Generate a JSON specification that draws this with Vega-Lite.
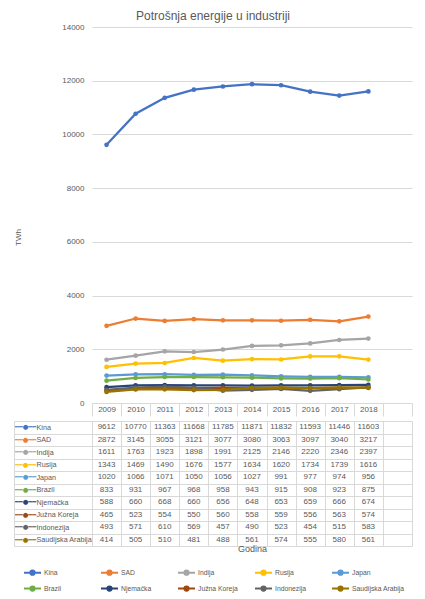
{
  "$schema": "https://vega.github.io/schema/vega-lite/v6.json",
  "padding": {"left": 13, "top": 10, "right": 6, "bottom": 4},
  "background": "white",
  "title": {
    "text": "Potrošnja energije u industriji",
    "fontSize": 12,
    "fontWeight": "normal",
    "color": "#595959",
    "anchor": "middle",
    "frame": "bounds",
    "offset": 0
  },
  "config": {
    "font": "Liberation Sans",
    "view": {"stroke": null},
    "axis": {
      "labelColor": "#595959",
      "titleColor": "#595959",
      "labelFontSize": 8,
      "titleFontSize": 8,
      "titleFontWeight": "normal"
    }
  },
  "data": {
    "values": [
      {"Country": "Kina", "Year": "2009", "Value": 9612},
      {"Country": "Kina", "Year": "2010", "Value": 10770},
      {"Country": "Kina", "Year": "2011", "Value": 11363},
      {"Country": "Kina", "Year": "2012", "Value": 11668},
      {"Country": "Kina", "Year": "2013", "Value": 11785},
      {"Country": "Kina", "Year": "2014", "Value": 11871},
      {"Country": "Kina", "Year": "2015", "Value": 11832},
      {"Country": "Kina", "Year": "2016", "Value": 11593},
      {"Country": "Kina", "Year": "2017", "Value": 11446},
      {"Country": "Kina", "Year": "2018", "Value": 11603},
      {"Country": "SAD", "Year": "2009", "Value": 2872},
      {"Country": "SAD", "Year": "2010", "Value": 3145},
      {"Country": "SAD", "Year": "2011", "Value": 3055},
      {"Country": "SAD", "Year": "2012", "Value": 3121},
      {"Country": "SAD", "Year": "2013", "Value": 3077},
      {"Country": "SAD", "Year": "2014", "Value": 3080},
      {"Country": "SAD", "Year": "2015", "Value": 3063},
      {"Country": "SAD", "Year": "2016", "Value": 3097},
      {"Country": "SAD", "Year": "2017", "Value": 3040},
      {"Country": "SAD", "Year": "2018", "Value": 3217},
      {"Country": "Indija", "Year": "2009", "Value": 1611},
      {"Country": "Indija", "Year": "2010", "Value": 1763},
      {"Country": "Indija", "Year": "2011", "Value": 1923},
      {"Country": "Indija", "Year": "2012", "Value": 1898},
      {"Country": "Indija", "Year": "2013", "Value": 1991},
      {"Country": "Indija", "Year": "2014", "Value": 2125},
      {"Country": "Indija", "Year": "2015", "Value": 2146},
      {"Country": "Indija", "Year": "2016", "Value": 2220},
      {"Country": "Indija", "Year": "2017", "Value": 2346},
      {"Country": "Indija", "Year": "2018", "Value": 2397},
      {"Country": "Rusija", "Year": "2009", "Value": 1343},
      {"Country": "Rusija", "Year": "2010", "Value": 1469},
      {"Country": "Rusija", "Year": "2011", "Value": 1490},
      {"Country": "Rusija", "Year": "2012", "Value": 1676},
      {"Country": "Rusija", "Year": "2013", "Value": 1577},
      {"Country": "Rusija", "Year": "2014", "Value": 1634},
      {"Country": "Rusija", "Year": "2015", "Value": 1620},
      {"Country": "Rusija", "Year": "2016", "Value": 1734},
      {"Country": "Rusija", "Year": "2017", "Value": 1739},
      {"Country": "Rusija", "Year": "2018", "Value": 1616},
      {"Country": "Japan", "Year": "2009", "Value": 1020},
      {"Country": "Japan", "Year": "2010", "Value": 1066},
      {"Country": "Japan", "Year": "2011", "Value": 1071},
      {"Country": "Japan", "Year": "2012", "Value": 1050},
      {"Country": "Japan", "Year": "2013", "Value": 1056},
      {"Country": "Japan", "Year": "2014", "Value": 1027},
      {"Country": "Japan", "Year": "2015", "Value": 991},
      {"Country": "Japan", "Year": "2016", "Value": 977},
      {"Country": "Japan", "Year": "2017", "Value": 974},
      {"Country": "Japan", "Year": "2018", "Value": 956},
      {"Country": "Brazil", "Year": "2009", "Value": 833},
      {"Country": "Brazil", "Year": "2010", "Value": 931},
      {"Country": "Brazil", "Year": "2011", "Value": 967},
      {"Country": "Brazil", "Year": "2012", "Value": 968},
      {"Country": "Brazil", "Year": "2013", "Value": 958},
      {"Country": "Brazil", "Year": "2014", "Value": 943},
      {"Country": "Brazil", "Year": "2015", "Value": 915},
      {"Country": "Brazil", "Year": "2016", "Value": 908},
      {"Country": "Brazil", "Year": "2017", "Value": 923},
      {"Country": "Brazil", "Year": "2018", "Value": 875},
      {"Country": "Njemačka", "Year": "2009", "Value": 588},
      {"Country": "Njemačka", "Year": "2010", "Value": 660},
      {"Country": "Njemačka", "Year": "2011", "Value": 668},
      {"Country": "Njemačka", "Year": "2012", "Value": 660},
      {"Country": "Njemačka", "Year": "2013", "Value": 656},
      {"Country": "Njemačka", "Year": "2014", "Value": 648},
      {"Country": "Njemačka", "Year": "2015", "Value": 653},
      {"Country": "Njemačka", "Year": "2016", "Value": 659},
      {"Country": "Njemačka", "Year": "2017", "Value": 666},
      {"Country": "Njemačka", "Year": "2018", "Value": 674},
      {"Country": "Južna Koreja", "Year": "2009", "Value": 465},
      {"Country": "Južna Koreja", "Year": "2010", "Value": 523},
      {"Country": "Južna Koreja", "Year": "2011", "Value": 554},
      {"Country": "Južna Koreja", "Year": "2012", "Value": 550},
      {"Country": "Južna Koreja", "Year": "2013", "Value": 560},
      {"Country": "Južna Koreja", "Year": "2014", "Value": 558},
      {"Country": "Južna Koreja", "Year": "2015", "Value": 559},
      {"Country": "Južna Koreja", "Year": "2016", "Value": 556},
      {"Country": "Južna Koreja", "Year": "2017", "Value": 563},
      {"Country": "Južna Koreja", "Year": "2018", "Value": 574},
      {"Country": "Indonezija", "Year": "2009", "Value": 493},
      {"Country": "Indonezija", "Year": "2010", "Value": 571},
      {"Country": "Indonezija", "Year": "2011", "Value": 610},
      {"Country": "Indonezija", "Year": "2012", "Value": 569},
      {"Country": "Indonezija", "Year": "2013", "Value": 457},
      {"Country": "Indonezija", "Year": "2014", "Value": 490},
      {"Country": "Indonezija", "Year": "2015", "Value": 523},
      {"Country": "Indonezija", "Year": "2016", "Value": 454},
      {"Country": "Indonezija", "Year": "2017", "Value": 515},
      {"Country": "Indonezija", "Year": "2018", "Value": 583},
      {"Country": "Saudijska Arabija", "Year": "2009", "Value": 414},
      {"Country": "Saudijska Arabija", "Year": "2010", "Value": 505},
      {"Country": "Saudijska Arabija", "Year": "2011", "Value": 510},
      {"Country": "Saudijska Arabija", "Year": "2012", "Value": 481},
      {"Country": "Saudijska Arabija", "Year": "2013", "Value": 488},
      {"Country": "Saudijska Arabija", "Year": "2014", "Value": 561},
      {"Country": "Saudijska Arabija", "Year": "2015", "Value": 574},
      {"Country": "Saudijska Arabija", "Year": "2016", "Value": 555},
      {"Country": "Saudijska Arabija", "Year": "2017", "Value": 580},
      {"Country": "Saudijska Arabija", "Year": "2018", "Value": 561}
    ]
  },
  "spacing": 0,
  "vconcat": [
    {
      "width": 320,
      "height": 376,
      "mark": {"type": "line", "strokeWidth": 2.25, "point": {"filled": true, "size": 22}},
      "encoding": {
        "x": {
          "field": "Year",
          "type": "nominal",
          "scale": {
            "type": "band",
            "domain": ["2009", "2010", "2011", "2012", "2013", "2014", "2015", "2016", "2017", "2018", " "],
            "paddingInner": 0,
            "paddingOuter": 0
          },
          "axis": {
            "title": null,
            "labelAngle": 0,
            "domainColor": "#d9d9d9",
            "tickColor": "#d9d9d9",
            "tickBand": "extent",
            "tickSize": 13,
            "labelPadding": -11,
            "grid": false
          }
        },
        "y": {
          "field": "Value",
          "type": "quantitative",
          "scale": {"domain": [0, 14000], "nice": false},
          "axis": {
            "title": "TWh",
            "format": "d",
            "values": [0, 2000, 4000, 6000, 8000, 10000, 12000, 14000],
            "domain": false,
            "ticks": false,
            "gridColor": "#d9d9d9",
            "labelPadding": 8,
            "titlePadding": 39,
            "titleY": 210
          }
        },
        "color": {
          "field": "Country",
          "type": "nominal",
          "scale": {
            "domain": ["Kina", "SAD", "Indija", "Rusija", "Japan", "Brazil", "Njemačka", "Južna Koreja", "Indonezija", "Saudijska Arabija"],
            "range": ["#4472C4", "#ED7D31", "#A5A5A5", "#FFC000", "#5B9BD5", "#70AD47", "#264478", "#9E480E", "#636363", "#997300"]
          },
          "legend": {
            "orient": "none",
            "direction": "horizontal",
            "legendX": -69,
            "legendY": 536,
            "columns": 5,
            "title": null,
            "gridAlign": "all",
            "symbolType": "M-1,0H1M-0.25,0A0.25,0.25,0,1,1,0.25,0A0.25,0.25,0,1,1,-0.25,0",
            "symbolSize": 289,
            "symbolStrokeWidth": 2,
            "labelFontSize": 6.8,
            "labelColor": "#595959",
            "labelOffset": 2,
            "columnPadding": 0,
            "rowPadding": -2,
            "encode": {"symbols": {"update": {"fill": {"scale": "color", "field": "value"}}}}
          }
        }
      }
    },
    {
      "width": 320,
      "height": 125,
      "layer": [
        {
          "mark": {"type": "text", "fontSize": 8, "color": "#595959"},
          "encoding": {
            "x": {
              "field": "Year",
              "type": "nominal",
              "scale": {
                "type": "band",
                "domain": ["2009", "2010", "2011", "2012", "2013", "2014", "2015", "2016", "2017", "2018", " "],
                "paddingInner": 0,
                "paddingOuter": 0
              },
              "axis": {
                "orient": "bottom",
                "title": "Godina",
                "titleFontSize": 9,
                "titlePadding": -2,
                "labels": false,
                "ticks": false,
                "domain": false,
                "grid": true,
                "gridColor": "#d9d9d9",
                "tickBand": "extent"
              }
            },
            "y": {
              "field": "Country",
              "type": "nominal",
              "scale": {
                "domain": ["Kina", "SAD", "Indija", "Rusija", "Japan", "Brazil", "Njemačka", "Južna Koreja", "Indonezija", "Saudijska Arabija"],
                "paddingInner": 0,
                "paddingOuter": 0
              },
              "axis": {
                "orient": "left",
                "title": null,
                "domain": false,
                "ticks": true,
                "tickSize": 78,
                "tickColor": "#d9d9d9",
                "tickBand": "extent",
                "grid": true,
                "gridColor": "#d9d9d9",
                "labelAlign": "left",
                "labelPadding": -22,
                "labelFontSize": 7.2
              }
            },
            "text": {"field": "Value", "type": "nominal"}
          }
        },
        {
          "mark": {"type": "text", "opacity": 0},
          "encoding": {
            "y": {
              "field": "Country",
              "type": "nominal",
              "axis": {
                "orient": "left",
                "title": null,
                "offset": 78,
                "domain": true,
                "domainColor": "#d9d9d9",
                "ticks": false,
                "tickSize": 0,
                "grid": false,
                "labelAlign": "center",
                "labelPadding": -11,
                "labelFontSize": 6.5,
                "labelFont": "DejaVu Sans",
                "labelExpr": "'━━●━━'",
                "labelColor": {"expr": "{'Kina': '#4472C4', 'SAD': '#ED7D31', 'Indija': '#A5A5A5', 'Rusija': '#FFC000', 'Japan': '#5B9BD5', 'Brazil': '#70AD47', 'Njemačka': '#264478', 'Južna Koreja': '#9E480E', 'Indonezija': '#636363', 'Saudijska Arabija': '#997300'}[datum.value]"}
              }
            },
            "text": {"value": ""}
          }
        }
      ],
      "resolve": {"axis": {"y": "independent"}}
    }
  ]
}
